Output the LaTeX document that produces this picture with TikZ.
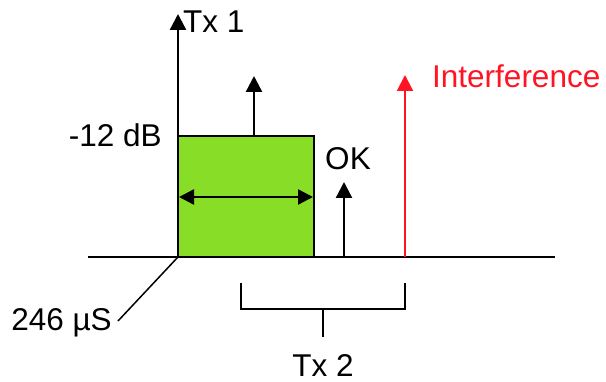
\documentclass[tikz,border=0pt]{standalone}
\usepackage{fontspec}
\setmainfont{Liberation Sans}
\usetikzlibrary{arrows.meta}
\definecolor{burstgreen}{RGB}{136,221,38}
\definecolor{jamred}{RGB}{255,20,36}
\tikzset{
  lbl/.style={inner sep=0pt, font=\fontsize{31.5}{36}\selectfont},
  axis/.style={line width=2pt},
  tone/.style={line width=2.4pt, -{Triangle[width=16pt,length=16pt]}},
  brace/.style={line width=1.6pt},
}
\begin{document}
\begin{tikzpicture}[x=1pt, y=-1pt]
\useasboundingbox (0,0) rectangle (606,382);
% axes
\coordinate (O) at (178,257);
\coordinate (xl) at (88,257);
\coordinate (xr) at (555,257);
\coordinate (ytop) at (178,14);
\draw [axis] (xl) -- (xr);
% Tx 1 burst
\draw [line width=2pt, fill=burstgreen] (178,136) rectangle (314,257);
\draw [tone] (O) -- (ytop);
\coordinate (b1) at (254,136);
\coordinate (b2) at (254,76);
\draw [tone] (b1) -- (b2);
\coordinate (w1) at (179,197);
\coordinate (w2) at (313,197);
\draw [line width=2.4pt, {Triangle[width=15pt,length=15pt]}-{Triangle[width=15pt,length=15pt]}] (w1) -- (w2);
\node [lbl, anchor=west] (tx1) at (183,22) {Tx 1};
\node [lbl, anchor=east] (db) at (162,135) {-12 dB};
% second carrier and interferer
\coordinate (ok1) at (344,257);
\coordinate (ok2) at (344,182);
\draw [tone] (ok1) -- (ok2);
\node [lbl] (ok) at (348,159) {OK};
\coordinate (i1) at (405,257);
\coordinate (i2) at (405,75);
\draw [tone, jamred, line width=2pt] (i1) -- (i2);
\node [lbl, anchor=west, text=jamred] (intf) at (432,76) {Interference};
% duration marker
\node [lbl, anchor=east] (dur) at (112,323) {246 µS};
\coordinate (d1) at (118,321);
\draw [line width=1.5pt] (O) -- (d1);
% Tx 2 span
\coordinate (s1) at (241,283);
\coordinate (s2) at (405,283);
\coordinate (s3) at (323,309);
\coordinate (s4) at (323,337);
\draw [brace] (s1) |- (s3) -| (s2);
\draw [brace] (s3) -- (s4);
\node [lbl] (tx2) at (323,366) {Tx 2};
\end{tikzpicture}
\end{document}
